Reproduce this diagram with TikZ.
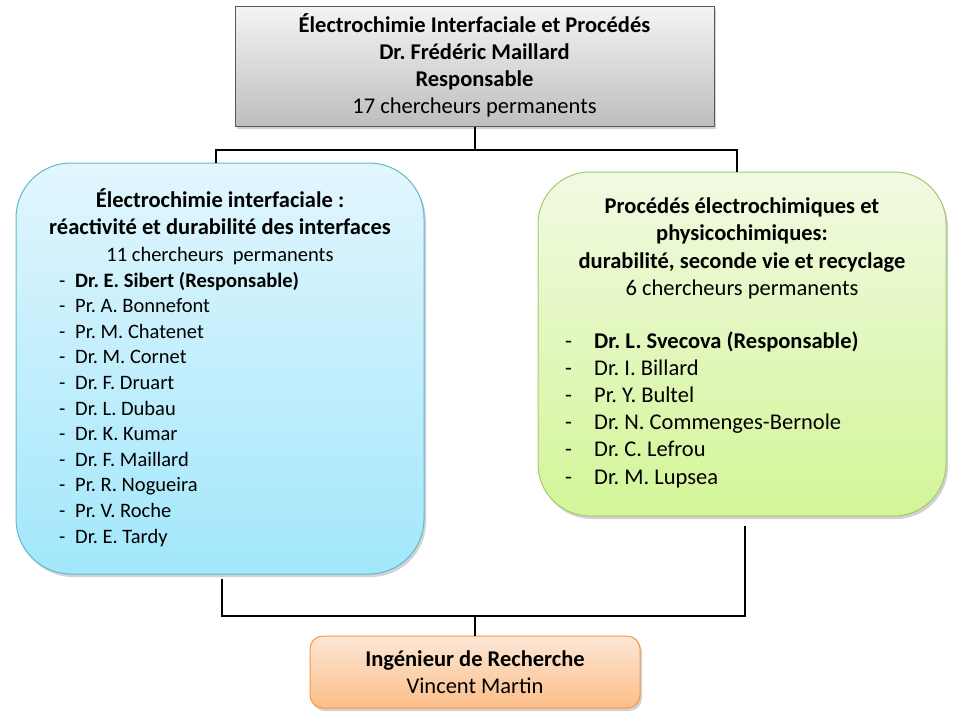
\documentclass[tikz,border=0pt]{standalone}
\usepackage{fontspec}
\setmainfont{Carlito}
\usetikzlibrary{shadows}
\definecolor{topA}{HTML}{F4F4F4}
\definecolor{topB}{HTML}{BEBEBE}
\definecolor{topE}{HTML}{5A5A5A}
\definecolor{bluA}{HTML}{E2F6FD}
\definecolor{bluB}{HTML}{A2E7FB}
\definecolor{bluE}{HTML}{62B8CF}
\definecolor{grnA}{HTML}{F1FAE2}
\definecolor{grnB}{HTML}{D3F597}
\definecolor{grnE}{HTML}{A5C96E}
\definecolor{orgA}{HTML}{FDE7D6}
\definecolor{orgB}{HTML}{FBBE89}
\definecolor{orgE}{HTML}{F79646}
\newcommand\fbig{\fontsize{22.5}{27}\selectfont}
\newcommand\fsml{\fontsize{20.5}{25}\selectfont}
\frenchspacing
\begin{document}
\begin{tikzpicture}[x=1pt,y=-1pt,
  boxbase/.style={draw, rectangle, inner sep=0pt,
    drop shadow={opacity=0.35, shadow xshift=2pt, shadow yshift=-3pt}},
  topbox/.style={boxbase, draw=topE, line width=1pt, top color=topA, bottom color=topB,
    minimum width=479pt, minimum height=120pt},
  leftbox/.style={boxbase, draw=bluE, line width=1pt, top color=bluA, bottom color=bluB,
    rounded corners=55pt, minimum width=408pt, minimum height=411pt},
  rightbox/.style={boxbase, draw=grnE, line width=1pt, top color=grnA, bottom color=grnB,
    rounded corners=52pt, minimum width=408pt, minimum height=344pt},
  botbox/.style={boxbase, draw=orgE, line width=1pt, top color=orgA, bottom color=orgB,
    rounded corners=13pt, minimum width=330pt, minimum height=72pt},
  conn/.style={draw=black, line width=2pt},
  tb/.style={inner sep=0pt, anchor=base, font=\fbig},
  tl/.style={inner sep=0pt, anchor=base west, font=\fsml},
  tr/.style={inner sep=0pt, anchor=base west, font=\fbig}]
\useasboundingbox (0,0) rectangle (960,720);
\fill[white] (0,0) rectangle (960,720);

% boxes
\node[topbox] (top) at (474.5,66) {};
\node[leftbox] (left) at (220,368.5) {};
\node[rightbox] (right) at (742,344) {};
\node[botbox] (bot) at (475,672) {};

% junction coordinates
\coordinate (jl) at (216,150);
\coordinate (jr) at (737,150);
\coordinate (bl) at (222,616);
\coordinate (br) at (745,616);
\coordinate (blt) at (222,579);
\coordinate (brt) at (745,526);

% connectors
\draw[conn] (top.south) -- (top.south |- jl);
\draw[conn] (jl |- left.north) -- (jl) -- (jr) -- (jr |- right.north);
\draw[conn] (blt) -- (bl) -- (br) -- (brt);
\draw[conn] (bot.north) -- (bot.north |- bl);

% top box text
\node[tb, font=\fbig\bfseries] (t1) at (474.5,32) {Électrochimie Interfaciale et Procédés};
\node[tb, font=\fbig\bfseries] (t2) at (474.5,59) {Dr. Frédéric Maillard};
\node[tb, font=\fbig\bfseries] (t3) at (474.5,86) {Responsable};
\node[tb] (t4) at (474.5,113) {17 chercheurs permanents};

% left box text
\node[tb, font=\fbig\bfseries] (l0a) at (220,207) {Électrochimie interfaciale :};
\node[tb, font=\fbig\bfseries] (l0b) at (220,234) {réactivité et durabilité des interfaces};
\node[tb, font=\fsml] (l0c) at (220,261) {11 chercheurs\ \ permanents};
\foreach \nm [count=\i] in {{\bfseries Dr. E. Sibert (Responsable)}, Pr. A. Bonnefont,
  Pr. M. Chatenet, Dr. M. Cornet, Dr. F. Druart, Dr. L. Dubau, Dr. K. Kumar,
  Dr. F. Maillard, Pr. R. Nogueira, Pr. V. Roche, Dr. E. Tardy}{
  \node[tl] (ld\i) at (59,{287+(\i-1)*25.6}) {-};
  \node[tl] (l\i) at (75,{287+(\i-1)*25.6}) {\nm};
}

% right box text
\node[tb, font=\fbig\bfseries] (r0a) at (742,213) {Procédés électrochimiques et};
\node[tb, font=\fbig\bfseries] (r0b) at (742,240) {physicochimiques:};
\node[tb, font=\fbig\bfseries] (r0c) at (742,268) {durabilité, seconde vie et recyclage};
\node[tb] (r0d) at (742,295) {6 chercheurs permanents};
\foreach \nm [count=\i] in {{\bfseries Dr. L. Svecova (Responsable)}, Dr. I. Billard,
  Pr. Y. Bultel, Dr. N. Commenges-Bernole, Dr. C. Lefrou, Dr. M. Lupsea}{
  \node[tr] (rd\i) at (565,{348+(\i-1)*27.2}) {-};
  \node[tr] (r\i) at (594,{348+(\i-1)*27.2}) {\nm};
}

% bottom box text
\node[tb, font=\fbig\bfseries] (b1) at (475,666) {Ingénieur de Recherche};
\node[tb] (b2) at (475,693) {Vincent Martin};
\end{tikzpicture}
\end{document}
